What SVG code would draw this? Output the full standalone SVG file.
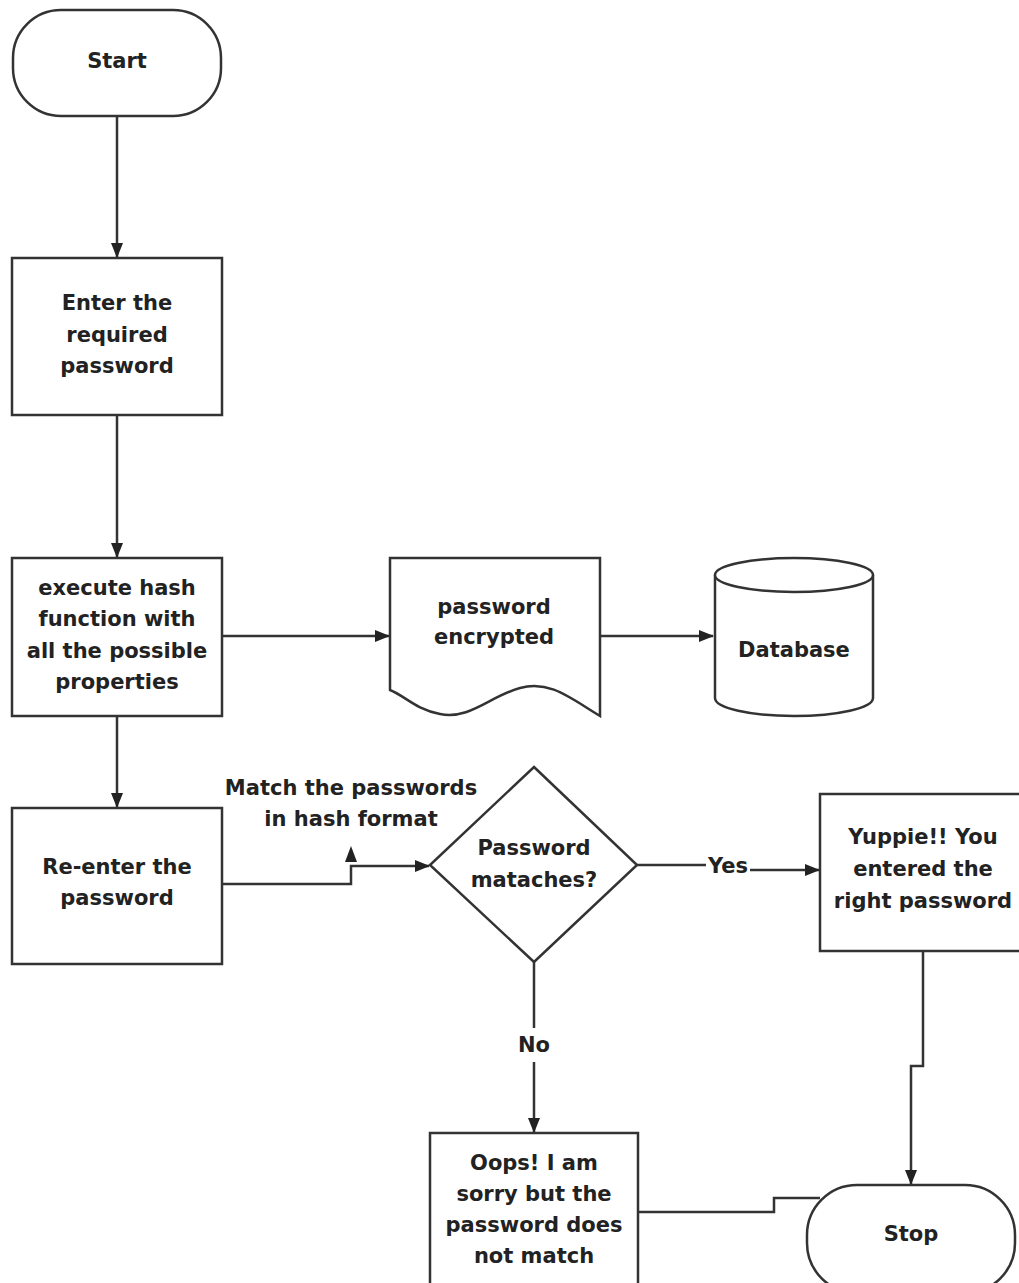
<svg xmlns="http://www.w3.org/2000/svg" width="1019" height="1283" viewBox="0 0 1019 1283">
<style>
.s{fill:#fff;stroke:#333;stroke-width:2.5}
.c{fill:none;stroke:#333;stroke-width:2.5}
text{font-family:"DejaVu Sans","Liberation Sans",sans-serif;font-weight:bold;font-size:21px;fill:#222;text-anchor:middle}
</style>
<defs>
<marker id="a" markerWidth="15" markerHeight="12" refX="14" refY="6" orient="auto" markerUnits="userSpaceOnUse">
<path d="M0,0 L15,6 L0,12 z" fill="#222"/>
</marker>
</defs>
<rect width="1019" height="1283" fill="#fff"/>
<g id="connectors">
<path class="c" d="M117,116 V257" marker-end="url(#a)"/>
<path class="c" d="M117,415 V557" marker-end="url(#a)"/>
<path class="c" d="M222,636 H389" marker-end="url(#a)"/>
<path class="c" d="M600,636 H713" marker-end="url(#a)"/>
<path class="c" d="M117,716 V807" marker-end="url(#a)"/>
<path class="c" d="M222,884 H351 V866 H429" marker-end="url(#a)"/>
<path d="M351,846 L345,862 L357,862 z" fill="#222"/>
<path class="c" d="M637,865 H706"/>
<path class="c" d="M750,870 H819" marker-end="url(#a)"/>
<path class="c" d="M534,962 V1028"/>
<path class="c" d="M534,1062 V1132" marker-end="url(#a)"/>
<path class="c" d="M923,951 V1066 H911 V1184" marker-end="url(#a)"/>
<path class="c" d="M638,1212 H774 V1198 H820"/>
</g>
<g id="start">
<rect class="s" x="13" y="10" width="208" height="106" rx="48" ry="48"/>
<text x="117" y="68">Start</text>
</g>
<g id="enter">
<rect class="s" x="12" y="258" width="210" height="157"/>
<text x="117" y="310">Enter the</text>
<text x="117" y="342">required</text>
<text x="117" y="373">password</text>
</g>
<g id="hash">
<rect class="s" x="12" y="558" width="210" height="158"/>
<text x="117" y="595">execute hash</text>
<text x="117" y="626">function with</text>
<text x="117" y="658">all the possible</text>
<text x="117" y="689">properties</text>
</g>
<g id="encrypted">
<path class="s" d="M390,558 H600 V716 C570,698 550,680 520,688 C490,696 470,720 440,714 C415,709 405,696 390,690 Z"/>
<text x="494" y="614">password</text>
<text x="494" y="644">encrypted</text>
</g>
<g id="database">
<path class="s" d="M715,575 V698 A79,18 0 0 0 873,698 V575"/>
<ellipse class="s" cx="794" cy="575" rx="79" ry="17"/>
<text x="794" y="657">Database</text>
</g>
<g id="reenter">
<rect class="s" x="12" y="808" width="210" height="156"/>
<text x="117" y="874">Re-enter the</text>
<text x="117" y="905">password</text>
</g>
<g id="matchlabel">
<text x="351" y="795">Match the passwords</text>
<text x="351" y="826">in hash format</text>
</g>
<g id="decision">
<path class="s" d="M534,767 L637,865 L534,962 L430,865 Z"/>
<text x="534" y="855">Password</text>
<text x="534" y="887">mataches?</text>
</g>
<g id="yeslabel"><text x="728" y="873">Yes</text></g>
<g id="nolabel"><text x="534" y="1052">No</text></g>
<g id="right">
<rect class="s" x="820" y="794" width="208" height="157"/>
<text x="923" y="844">Yuppie!! You</text>
<text x="923" y="876">entered the</text>
<text x="923" y="908">right password</text>
</g>
<g id="wrong">
<rect class="s" x="430" y="1133" width="208" height="160"/>
<text x="534" y="1170">Oops! I am</text>
<text x="534" y="1201">sorry but the</text>
<text x="534" y="1232">password does</text>
<text x="534" y="1263">not match</text>
</g>
<g id="stop">
<rect class="s" x="807" y="1185" width="208" height="108" rx="50" ry="50"/>
<text x="911" y="1241">Stop</text>
</g>
</svg>
